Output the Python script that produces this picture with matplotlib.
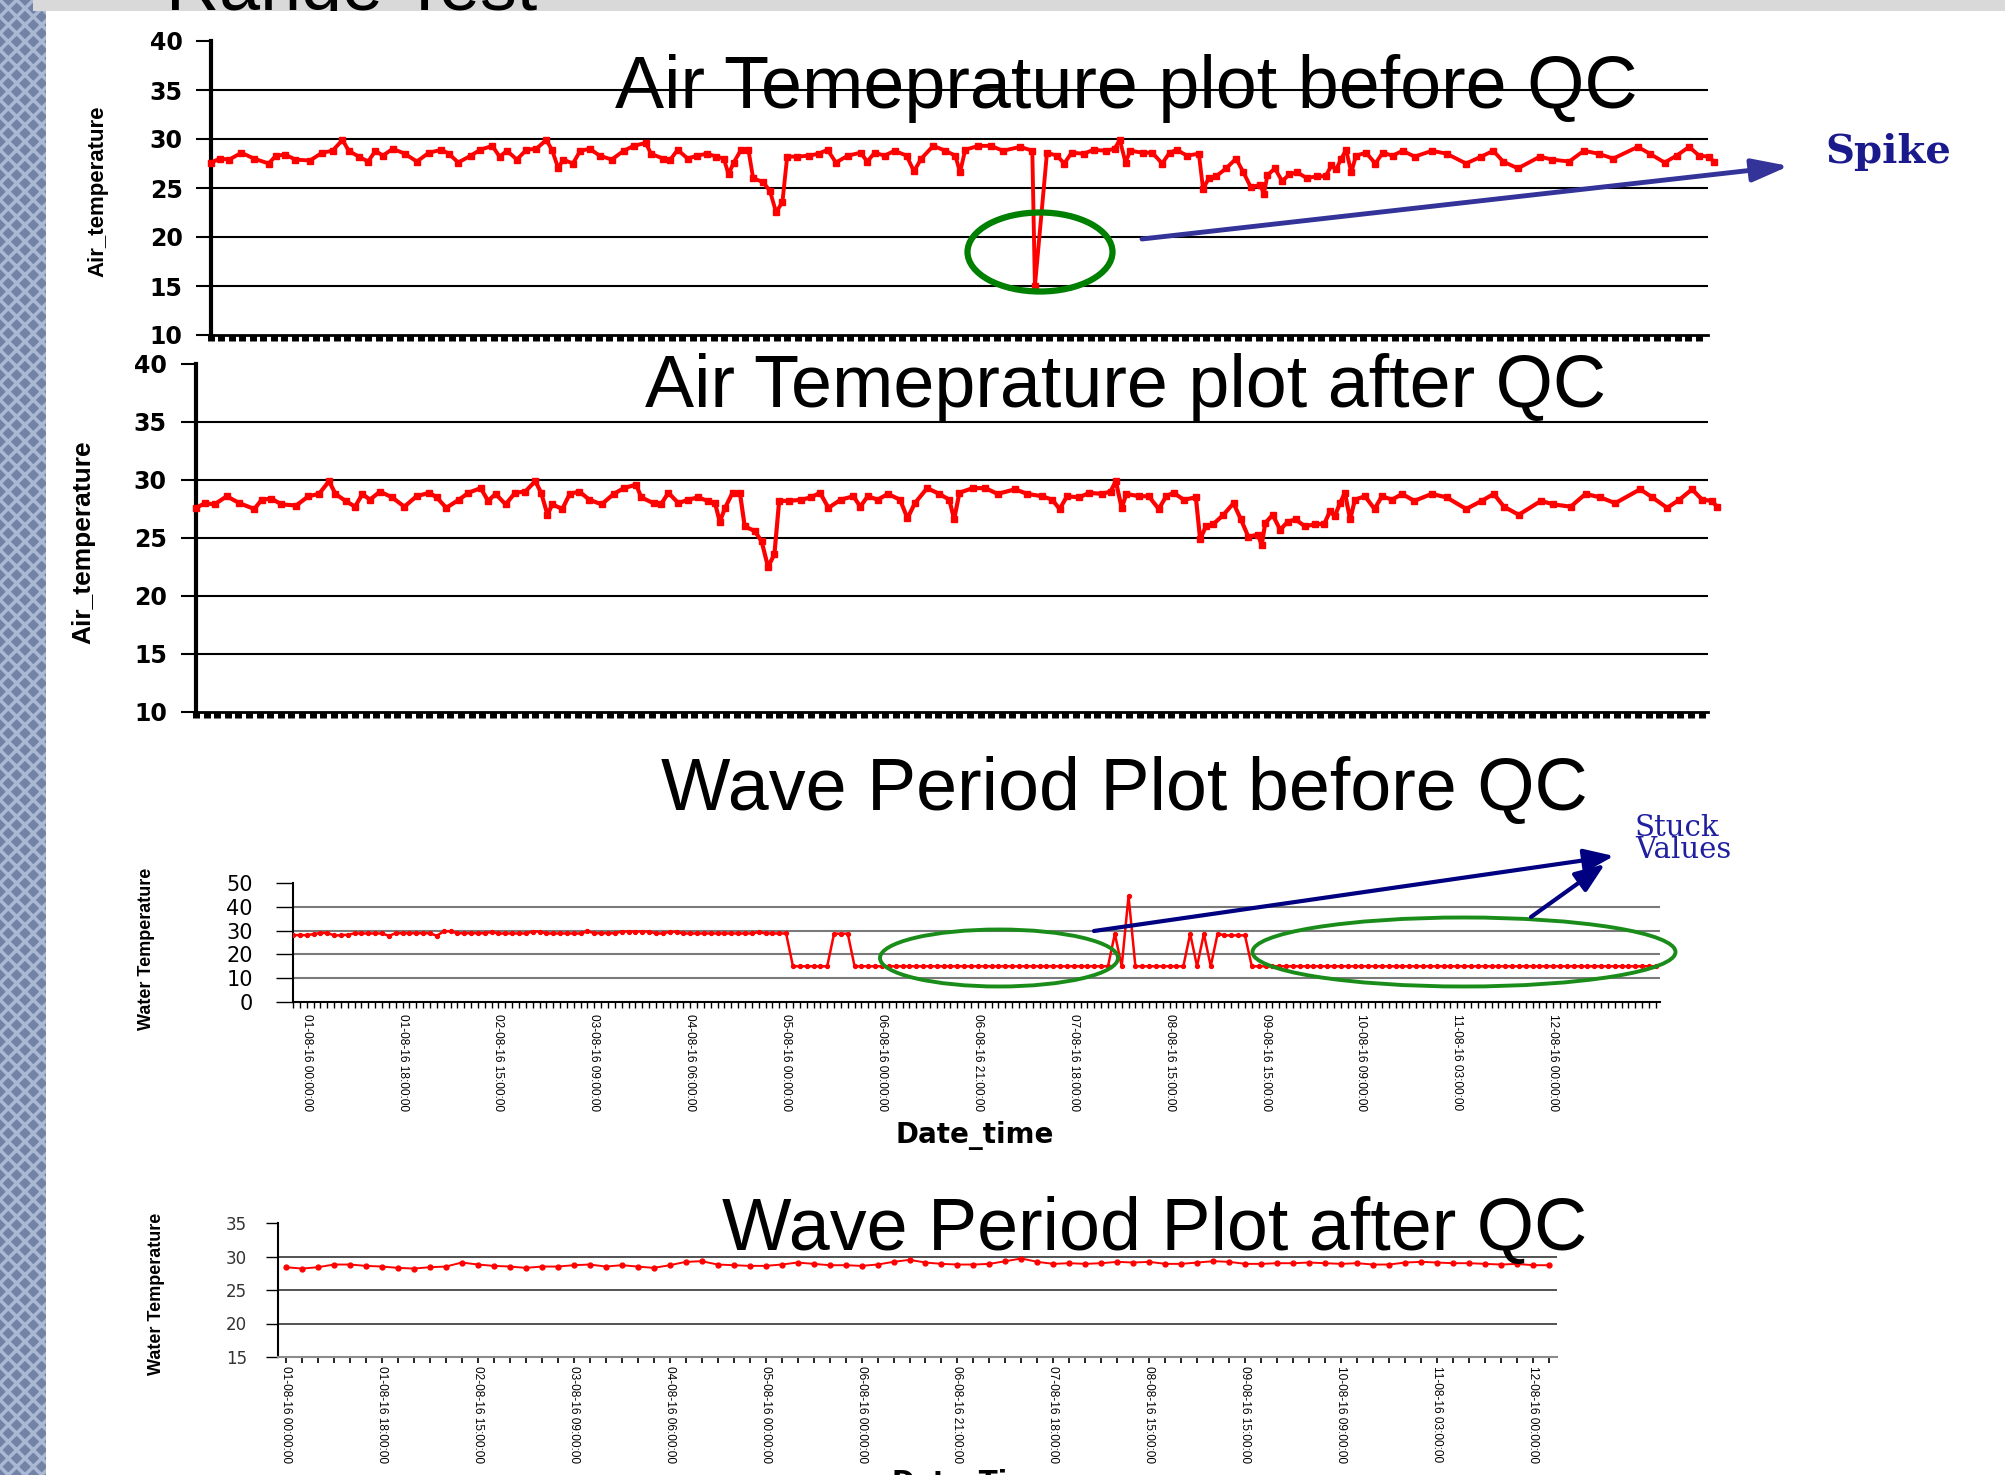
import matplotlib
matplotlib.use("Agg")
import matplotlib.pyplot as plt
from matplotlib.patches import Ellipse, Rectangle, FancyArrowPatch
import numpy as np

# ---------------- data ----------------
# air temperature, hours after 01-08-16 00:00 (read off the "after QC" chart)
air_hours = [0, 1.7, 3.5, 5.8, 8.2, 11.0, 12.4, 14.2, 16.1, 18.9, 21.2, 23.2, 25.1, 26.3, 28.2,
             30.0, 31.4, 32.8, 34.7, 37.0, 39.3, 41.6, 44.0, 45.4, 47.2, 49.6, 51.4, 53.7, 55.1,
             56.5, 58.4, 60.2, 62.1, 64.0, 65.1, 66.3, 67.2, 69.1, 70.5, 72.3, 74.2, 76.5, 78.8,
             80.7, 83.0, 84.0, 86.3, 87.7, 89.1, 91.0, 92.8, 94.7, 96.5, 97.9, 98.8, 99.8, 101.2,
             102.6, 103.5, 105.4, 106.7, 107.9, 109.1, 110.0, 111.9, 114.2, 116.0, 117.7, 119.3,
             121.6, 124.0, 125.3, 126.7, 128.6, 130.5, 132.8, 134.2, 135.6, 137.9, 140.2, 142.1,
             143.0, 144.0, 146.5, 148.9, 151.2, 154.5, 156.8, 159.6, 161.5, 162.9, 164.3, 166.6,
             168.5, 170.8, 172.5, 173.5, 174.6, 175.5, 177.9, 179.7, 181.6, 183.0, 184.4, 186.3,
             188.6, 189.4, 190.5, 191.9, 193.8, 195.7, 197.1, 198.5, 200.3, 201.0, 201.7, 203.1,
             204.5, 205.9, 207.4, 209.2, 211.1, 212.8, 213.9, 214.8, 215.8, 216.7, 217.7, 218.6,
             220.5, 222.3, 223.7, 225.6, 227.5, 229.8, 233.1, 235.9, 239.6, 242.5, 244.8, 246.7,
             249.5, 253.7, 256.0, 259.3, 262.1, 264.9, 267.7, 272.4, 274.7, 277.5, 279.8, 282.2,
             284.1, 285.9, 286.9]
air_temp = [27.6, 28.0, 27.9, 28.6, 28.0, 27.5, 28.3, 28.4, 27.9, 27.8, 28.6, 28.8, 29.9, 28.8, 28.2,
            27.7, 28.8, 28.3, 29.0, 28.5, 27.7, 28.6, 28.9, 28.5, 27.6, 28.3, 28.9, 29.3, 28.2,
            28.8, 27.9, 28.9, 29.0, 29.9, 28.9, 27.0, 27.9, 27.5, 28.8, 29.0, 28.3, 27.9, 28.8,
            29.3, 29.6, 28.5, 28.0, 27.9, 28.9, 28.0, 28.3, 28.5, 28.2, 28.0, 26.4, 27.6, 28.9,
            28.9, 26.0, 25.6, 24.7, 22.5, 23.6, 28.2, 28.2, 28.3, 28.5, 28.9, 27.6,
            28.3, 28.6, 27.7, 28.6, 28.3, 28.8, 28.3, 26.7, 28.0, 29.3, 28.8, 28.3,
            26.6, 28.9, 29.3, 29.3, 28.8, 29.2, 28.8, 28.6, 28.3, 27.5, 28.6, 28.5,
            28.9, 28.8, 29.0, 29.9, 27.6, 28.8, 28.6, 28.6, 27.5, 28.6, 28.9, 28.3,
            28.5, 24.9, 26.0, 26.2, 27.0, 28.0, 26.6, 25.1, 25.3, 24.4, 26.3, 27.0,
            25.7, 26.4, 26.6, 26.0, 26.2, 26.2, 27.3, 26.9, 28.0, 28.9, 26.6, 28.3,
            28.6, 27.5, 28.6, 28.3, 28.8, 28.2, 28.8, 28.5, 27.5, 28.2, 28.8, 27.7,
            27.0, 28.2, 27.9, 27.7, 28.8, 28.5, 28.0, 29.2, 28.5, 27.6, 28.3, 29.2,
            28.3, 28.2, 27.7]
# the bad reading that is only in the "before QC" chart
spike_hour = 157.3
spike_temp = 15.0

# water temperature before QC, one value per record
wave_before = ([28.1, 28.1, 28.1, 28.5, 29.0, 29.0, 28.0, 28.0, 28.3, 28.8, 28.8, 28.8, 28.8, 28.8,
                27.8, 28.9, 28.9, 28.9, 28.9, 28.9, 28.9, 27.8, 29.7, 29.7, 28.9, 28.9, 28.9, 28.9,
                28.9, 29.4, 28.8, 28.8, 28.8, 28.8, 28.8, 29.6, 29.6, 28.8, 28.8, 28.8, 28.8, 28.8,
                28.8, 29.7, 28.9, 28.9, 28.9, 28.9, 29.6, 29.6, 29.6, 29.6, 29.6, 28.8, 28.8, 29.5,
                29.5, 28.8, 28.8, 28.8, 28.8, 28.8, 28.8, 28.8, 28.8, 28.8, 28.8, 28.8, 29.4, 28.8,
                28.8, 28.8, 28.8]
               + [15.0] * 6 + [28.7, 28.7, 28.7] + [15.0] * 38
               + [28.7, 15.0, 44.5] + [15.0] * 8
               + [28.7, 15.0, 28.7, 15.0, 28.7, 28.0, 28.0, 28.0, 28.0] + [15.0] * 60)
wave_before_pos = [2, 16, 30, 44, 58, 72, 86, 100, 114, 128, 142, 156, 170, 184]
wave_before_labels = ["01-08-16 00:00:00", "01-08-16 18:00:00", "02-08-16 15:00:00",
                      "03-08-16 09:00:00", "04-08-16 06:00:00", "05-08-16 00:00:00",
                      "06-08-16 00:00:00", "06-08-16 21:00:00", "07-08-16 18:00:00",
                      "08-08-16 15:00:00", "09-08-16 15:00:00", "10-08-16 09:00:00",
                      "11-08-16 03:00:00", "12-08-16 00:00:00"]

# water temperature after QC
wave_after = [28.4, 28.2, 28.4, 28.8, 28.8, 28.6, 28.5, 28.3, 28.2, 28.4, 28.5, 29.1, 28.8, 28.6,
              28.5, 28.3, 28.5, 28.5, 28.7, 28.8, 28.5, 28.7, 28.5, 28.3, 28.7, 29.2, 29.3, 28.8,
              28.7, 28.6, 28.6, 28.8, 29.1, 28.9, 28.7, 28.7, 28.6, 28.8, 29.2, 29.5, 29.1, 28.9,
              28.8, 28.8, 28.9, 29.3, 29.7, 29.2, 28.9, 29.0, 28.9, 29.0, 29.2, 29.1, 29.2, 28.9,
              28.9, 29.1, 29.3, 29.2, 28.9, 28.9, 29.0, 29.0, 29.1, 29.0, 28.9, 29.0, 28.8, 28.8,
              29.1, 29.2, 29.1, 29.0, 29.0, 28.9, 28.8, 28.9, 28.7, 28.7]
wave_after_pos = [0, 6, 12, 18, 24, 30, 36, 42, 48, 54, 60, 66, 72, 78]
wave_after_labels = wave_before_labels

# ---------------- figure ----------------
W, H = 2006, 1475
fig = plt.figure(figsize=(W / 100, H / 100), dpi=100)
plt.rcParams['hatch.linewidth'] = 2.5


def px_axes(left, top, right, bottom, **kw):
    return fig.add_axes([left / W, 1 - bottom / H, (right - left) / W, (bottom - top) / H], **kw)


# slide background: textured stripe, grey title bar, white area
bg = px_axes(0, 0, W, H)
bg.set_xlim(0, W)
bg.set_ylim(H, 0)
bg.axis('off')
bg.add_patch(Rectangle((0, 0), 46, H, facecolor='#7283a6', edgecolor='#a9b8d3',
                       hatch='xx', lw=0, zorder=1))
bg.add_patch(Rectangle((33, 0), W, 11, facecolor='#d9d9d9', lw=0, zorder=2))
bg.text(166, 10, 'Range Test', fontsize=53, family='Liberation Sans', va='baseline', zorder=3)
bg.add_patch(Rectangle((46, 11), W, H, facecolor='white', lw=0, zorder=4))


def style_air(ax, tick_len, tick_pad):
    ticks = [10, 15, 20, 25, 30, 35, 40]
    ax.set_ylim(10, 40)
    ax.set_yticks(ticks, labels=[str(t) for t in ticks], fontsize=17,
                  fontfamily='DejaVu Sans', fontweight='bold')
    for v in ticks[1:-1]:
        ax.axhline(v, color='black', lw=1.5, zorder=1)
    ax.spines[['top', 'right']].set_visible(False)
    ax.spines['left'].set_linewidth(3)
    ax.spines['bottom'].set_linewidth(2)
    ax.tick_params(axis='y', length=tick_len, width=1.5, pad=tick_pad)
    ax.set_xticks(np.arange(0, 286, 2))
    ax.tick_params(axis='x', length=4, width=5, labelbottom=False)


# panel 1: air temperature before QC (with spike)
i = np.searchsorted(air_hours, spike_hour)
h1 = np.insert(np.array(air_hours), i, spike_hour)
t1 = np.insert(np.array(air_temp), i, spike_temp)
ax1 = px_axes(211, 41, 1708, 335)
ax1.plot(h1, t1, color='red', lw=2.8, marker='s', ms=4.5, clip_on=False, zorder=3)
ax1.set_xlim(0, 285.8)
style_air(ax1, 11, 9.4)

# panel 2: air temperature after QC
ax2 = px_axes(196, 364, 1708, 712)
ax2.plot(air_hours, air_temp, color='red', lw=3.0, marker='s', ms=5, clip_on=False, zorder=3)
ax2.set_xlim(0, 285.2)
style_air(ax2, 11, 10)

# panel 3: water temperature before QC
ax3 = px_axes(293, 883, 1660, 1002)
ax3.plot(range(len(wave_before)), wave_before, color='red', lw=1.8, marker='o', ms=2.8, zorder=3)
ax3.set_xlim(0, 199.6)
ax3.set_ylim(0, 50)
t3 = [0, 10, 20, 30, 40, 50]
ax3.set_yticks(t3, labels=[str(t) for t in t3], fontsize=15, fontfamily='DejaVu Sans')
for v in t3[1:-1]:
    ax3.axhline(v, color='#7a7a7a', lw=1.5, zorder=1)
ax3.set_xticks(wave_before_pos, labels=wave_before_labels, rotation=270,
               fontsize=8.6, fontfamily='Liberation Sans')
ax3.set_xticks(range(len(wave_before)), minor=True)
ax3.tick_params(axis='x', which='both', length=4, width=1, pad=5)
ax3.tick_params(axis='y', length=12, width=1, pad=17)
ax3.spines[['top', 'right']].set_visible(False)
ax3.spines[['left', 'bottom']].set_linewidth(1.5)

# panel 4: water temperature after QC
ax4 = px_axes(278, 1223, 1557, 1357)
ax4.plot(range(len(wave_after)), wave_after, color='red', lw=1.4, marker='o', ms=3.5, zorder=3)
ax4.set_xlim(-0.5, 79.5)
ax4.set_ylim(15, 35)
t4 = [15, 20, 25, 30, 35]
ax4.set_yticks(t4, labels=[str(t) for t in t4], fontsize=12, fontfamily='DejaVu Sans', color='#333333')
for v in t4[1:-1]:
    ax4.axhline(v, color='#444444', lw=1.3, zorder=1)
ax4.set_xticks(wave_after_pos, labels=wave_after_labels, rotation=270,
               fontsize=8.6, fontfamily='Liberation Sans')
ax4.set_xticks(range(len(wave_after)), minor=True)
ax4.tick_params(axis='x', which='both', length=4.5, width=1.2, pad=2)
ax4.tick_params(axis='y', length=8.6, width=1, pad=13.5)
ax4.spines[['top', 'right']].set_visible(False)
ax4.spines['left'].set_linewidth(1.5)
ax4.spines['bottom'].set_linewidth(1.5)
ax4.spines['bottom'].set_color('#8c8c8c')

# ---------------- overlay: titles, labels, call-outs ----------------
ov = px_axes(0, 0, W, H)
ov.set_xlim(0, W)
ov.set_ylim(H, 0)
ov.axis('off')
ov.patch.set_visible(False)

title_kw = dict(fontsize=53, family='Liberation Sans', ha='center', va='baseline')
ov.text(1126, 108, 'Air Temeprature plot before QC', **title_kw)
ov.text(1126, 407, 'Air Temeprature plot after QC', **title_kw)
ov.text(1124, 810, 'Wave Period Plot before QC', **title_kw)
ov.text(1155, 1250, 'Wave Period Plot after QC', **title_kw)

ov.text(98, 191, 'Air_temperature', rotation=90, ha='center', va='center',
        fontsize=16, fontweight='bold', family='Liberation Sans')
ov.text(83, 542, 'Air_temperature', rotation=90, ha='center', va='center',
        fontsize=19, fontweight='bold', family='Liberation Sans')
ov.text(147, 949, 'Water Temperature', rotation=90, ha='center', va='center',
        fontsize=13, fontweight='bold', family='Liberation Sans')
ov.text(157, 1294, 'Water Temperature', rotation=90, ha='center', va='center',
        fontsize=13, fontweight='bold', family='Liberation Sans')
ov.text(975, 1136, 'Date_time', ha='center', va='center', fontsize=20,
        fontweight='bold', family='DejaVu Sans')
ov.text(974, 1469, 'Date_Time', ha='center', va='top', fontsize=20,
        fontweight='bold', family='DejaVu Sans')

# spike call-out
ov.add_patch(Ellipse((1040, 252), 145, 79, fill=False, ec='#008000', lw=4.5, zorder=5))
ov.add_patch(FancyArrowPatch((1142, 239), (1789, 166), arrowstyle='-|>,head_length=1.6,head_width=0.5',
                             mutation_scale=14, lw=3.5, color='#333399', shrinkA=0, shrinkB=0, zorder=5))
ov.text(1825, 163, 'Spike', family='DejaVu Serif', fontweight='bold', fontsize=29,
        color='#1a1a8c', va='baseline')

# stuck values call-out
ov.add_patch(Ellipse((999, 958), 238, 57, fill=False, ec='#1a8c1a', lw=2.8, zorder=5))
ov.add_patch(Ellipse((1464, 952), 423, 69, fill=False, ec='#1a8c1a', lw=2.8, zorder=5))
for start, end in [((1094, 931), (1614, 856)), ((1531, 917), (1605, 864))]:
    ov.add_patch(FancyArrowPatch(start, end, arrowstyle='-|>,head_length=1.3,head_width=0.5',
                                 mutation_scale=14, lw=3, color='#000080', shrinkA=0, shrinkB=0, zorder=5))
ov.text(1635, 814, 'Stuck\nValues', family='DejaVu Serif', fontsize=21, color='#1f1fa0',
        va='top', ha='left', linespacing=0.72)

fig.savefig('out.png', dpi=100)
